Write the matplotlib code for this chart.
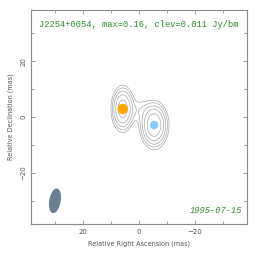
import numpy as np
import matplotlib
matplotlib.use("Agg")
import matplotlib.pyplot as plt
from matplotlib.patches import Ellipse, Circle

# map info
source = "J2254+0054"
epoch = "1995-07-15"
peak = 0.16
clev = 0.011

# model components (mas, Jy)
comp_x = [5.8, -5.4]
comp_y = [2.9, -2.9]
comp_flux = [0.13, 0.16]
comp_sx = [1.9, 2.3]
comp_sy = [3.8, 3.8]
comp_size = [3.2, 2.5]
comp_color = ["#FFA500", "#87CEFA"]

# faint emission between the two components
ext_x, ext_y = [-0.2], [2.6]
ext_flux = [0.014]
ext_sx, ext_sy = [2.4], [2.9]

# restoring beam (mas, deg)
beam_x, beam_y = 30.0, -30.0
beam_w, beam_h, beam_pa = 3.6, 8.4, 10.0

# image from the components
g = np.linspace(-40, 40, 401)
X, Y = np.meshgrid(g, g)
img = np.zeros_like(X)
for x0, y0, f, sx, sy in zip(comp_x + ext_x, comp_y + ext_y, comp_flux + ext_flux,
                             comp_sx + ext_sx, comp_sy + ext_sy):
    img += f * np.exp(-0.5 * (((X - x0) / sx) ** 2 + ((Y - y0) / sy) ** 2))
levels = clev * 1.7 ** np.arange(6)

fig = plt.figure(figsize=(2.64, 2.62), dpi=100)
ax = fig.add_axes([0.117, 0.145, 0.819, 0.817])
grey = "#8a8a8a"

ax.contour(X, Y, img, levels=levels, colors="#a8a8a8", linewidths=0.5)
for x0, y0, s, c in zip(comp_x, comp_y, comp_size, comp_color):
    ax.add_patch(Circle((x0, y0), s / 2, color=c, zorder=3))
ax.add_patch(Ellipse((beam_x, beam_y), beam_w, beam_h, angle=beam_pa,
                     color="#6c7f92", zorder=3))

ax.set_xlim(38.6, -38.6)
ax.set_ylim(-38.3, 38.3)
ax.set_xticks([20, 0, -20])
ax.set_yticks([-20, 0, 20])
ax.set_xticks(np.arange(-30, 40, 10), minor=True)
ax.set_yticks(np.arange(-30, 40, 10), minor=True)
ax.tick_params(which="both", direction="in", top=True, right=True,
               color=grey, labelsize=5, labelcolor="#555555", width=0.6)
ax.tick_params(which="major", length=3)
ax.tick_params(which="minor", length=2)
for lab in ax.get_yticklabels():
    lab.set_rotation(90)
    lab.set_va("center")
for sp in ax.spines.values():
    sp.set_color(grey)
    sp.set_linewidth(0.8)

ax.set_xlabel("Relative Right Ascension (mas)", fontsize=4.7, color="#555555")
ax.set_ylabel("Relative Declination (mas)", fontsize=4.7, color="#555555")

ax.text(0.5, 0.955, f"{source}, max={peak}, clev={clev} Jy/bm",
        transform=ax.transAxes, ha="center", va="top", color="#2e8b2e",
        family="Liberation Mono", fontsize=6.3)
ax.text(0.98, 0.04, epoch, transform=ax.transAxes, ha="right", va="bottom",
        color="#2e8b2e", family="Liberation Mono", style="italic", fontsize=6.3)

fig.savefig("out.png", dpi=100)
